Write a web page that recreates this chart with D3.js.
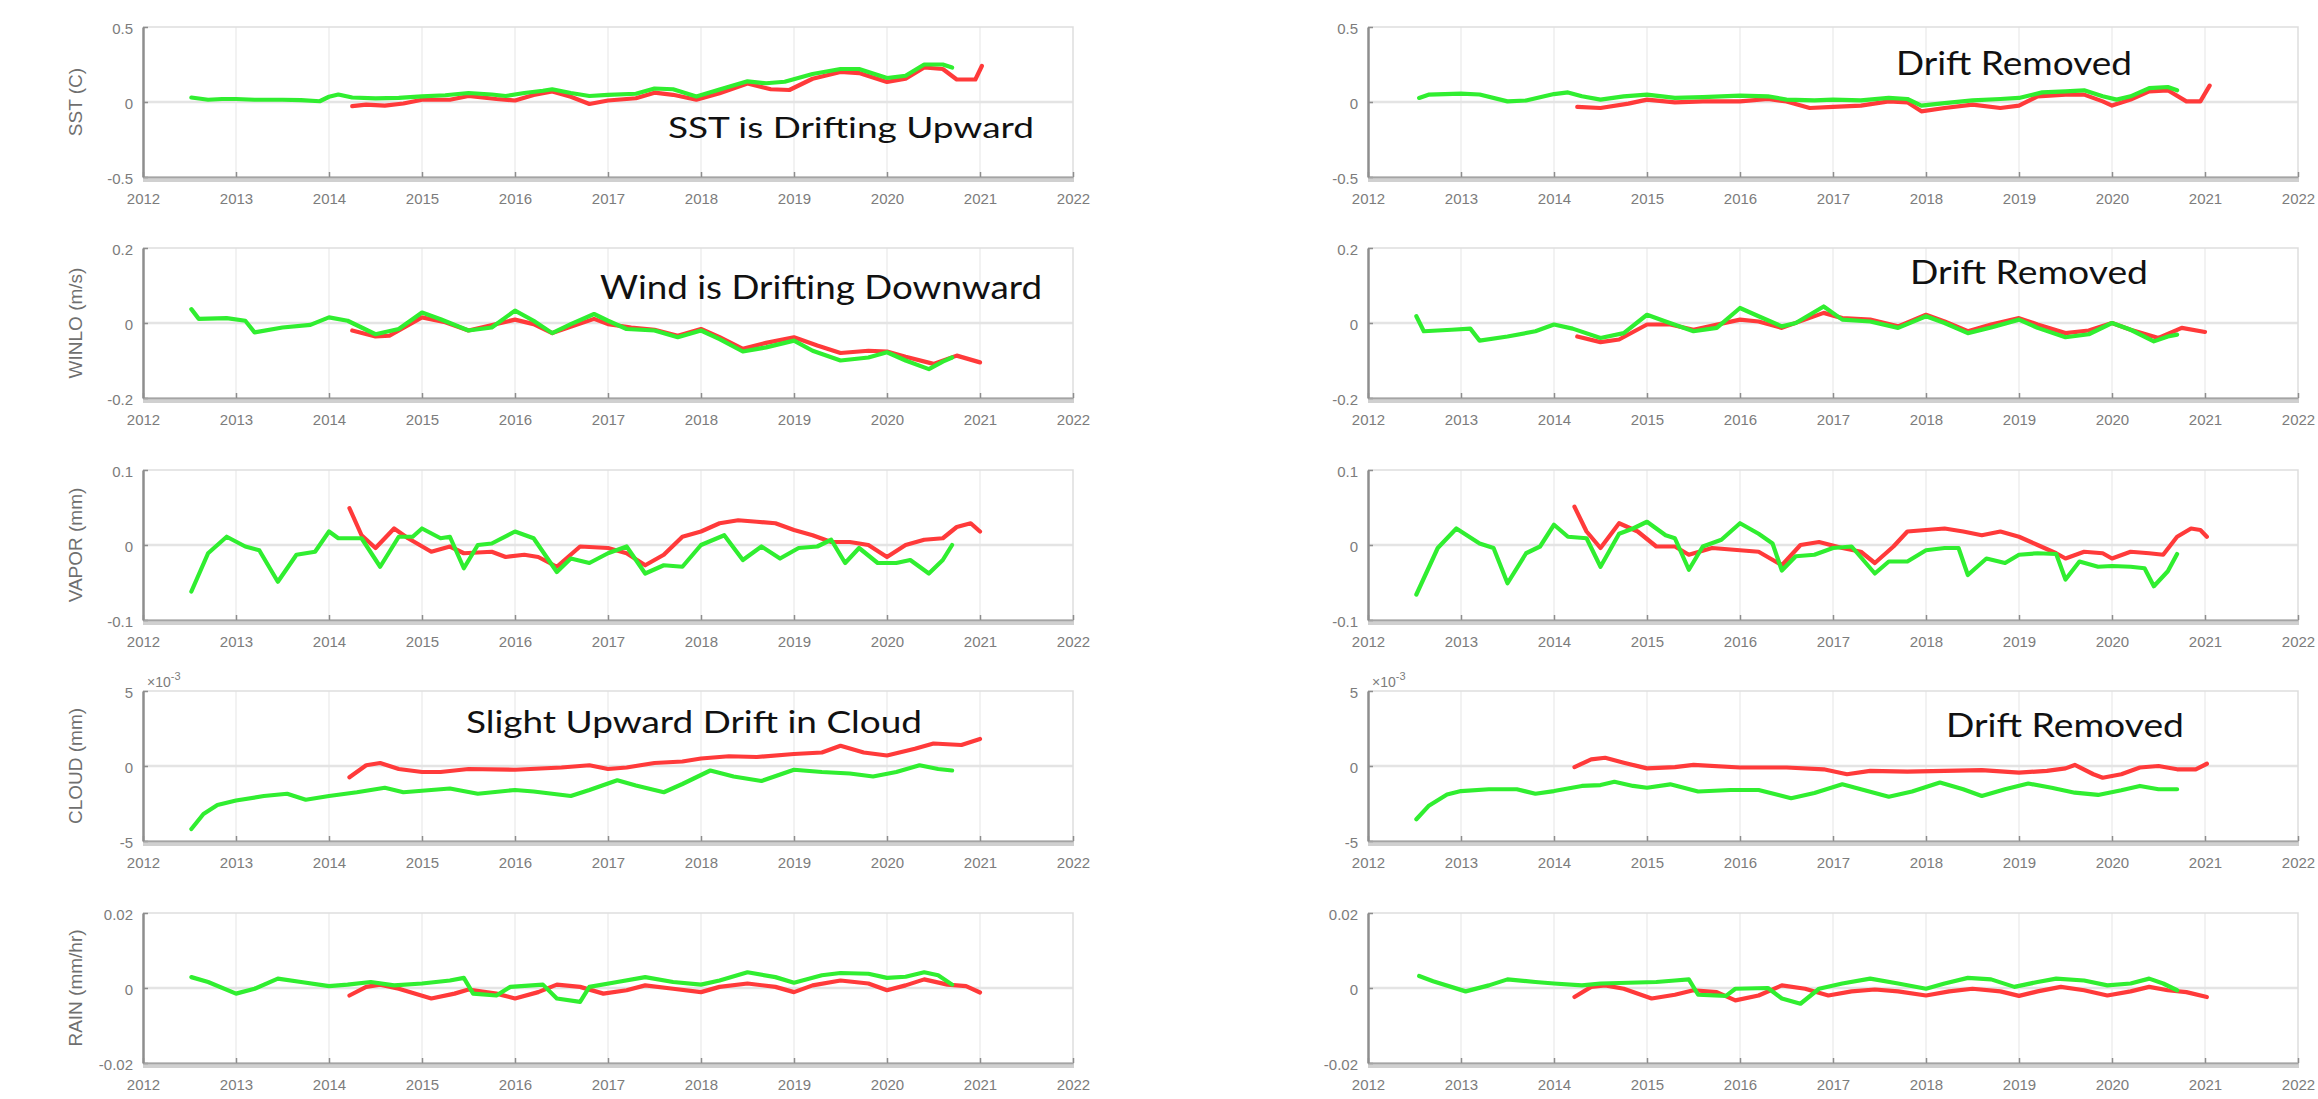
<!DOCTYPE html>
<html>
<head>
<meta charset="utf-8">
<script src="https://cdn.jsdelivr.net/npm/d3@7"></script>
<style>
  body { margin: 0; background: #ffffff; }
  svg { display: block; }
</style>
</head>
<body>
<svg id="fig" width="2318" height="1099"></svg>
<script>
// ---------------------------------------------------------------------------
// Axis definitions
// ---------------------------------------------------------------------------
const yearTicks = [2012, 2013, 2014, 2015, 2016, 2017, 2018, 2019, 2020, 2021, 2022];
const variableLabels = ["SST (C)", "WINLO (m/s)", "VAPOR (mm)", "CLOUD (mm)", "RAIN (mm/hr)"];
const yLimits = [0.5, 0.2, 0.1, 5, 0.02];           // symmetric limits (CLOUD in units of 1e-3 mm)
const yTickLabels = [
  ["0.5", "0", "-0.5"],
  ["0.2", "0", "-0.2"],
  ["0.1", "0", "-0.1"],
  ["5", "0", "-5"],
  ["0.02", "0", "-0.02"]
];

// ---------------------------------------------------------------------------
// Raw differences (left column): [decimal year, value]
// ---------------------------------------------------------------------------
const sstRawGreen = [[2012.52,0.03],[2012.7,0.015],[2012.85,0.02],[2013.0,0.02],[2013.2,0.015],[2013.5,0.015],[2013.7,0.012],[2013.9,0.005],[2014.0,0.035],[2014.1,0.05],[2014.25,0.03],[2014.5,0.024],[2014.75,0.028],[2015.0,0.037],[2015.25,0.045],[2015.5,0.06],[2015.75,0.05],[2015.9,0.04],[2016.1,0.06],[2016.3,0.075],[2016.4,0.085],[2016.6,0.06],[2016.8,0.04],[2017.0,0.047],[2017.3,0.055],[2017.5,0.09],[2017.7,0.085],[2017.95,0.037],[2018.2,0.084],[2018.5,0.138],[2018.7,0.125],[2018.9,0.135],[2019.2,0.187],[2019.5,0.22],[2019.7,0.22],[2019.9,0.18],[2020.0,0.16],[2020.2,0.175],[2020.4,0.25],[2020.6,0.25],[2020.7,0.23]];
const sstRawRed = [[2014.25,-0.028],[2014.4,-0.018],[2014.6,-0.024],[2014.8,-0.01],[2015.0,0.015],[2015.3,0.015],[2015.5,0.04],[2015.8,0.02],[2016.0,0.01],[2016.2,0.047],[2016.4,0.07],[2016.6,0.035],[2016.8,-0.013],[2017.0,0.01],[2017.3,0.025],[2017.5,0.062],[2017.7,0.048],[2017.95,0.015],[2018.2,0.058],[2018.5,0.123],[2018.75,0.085],[2018.95,0.08],[2019.2,0.155],[2019.5,0.2],[2019.7,0.193],[2020.0,0.134],[2020.2,0.155],[2020.4,0.23],[2020.6,0.22],[2020.75,0.15],[2020.95,0.15],[2021.02,0.24]];

const windRawGreen = [[2012.52,0.037],[2012.6,0.011],[2012.9,0.013],[2013.1,0.006],[2013.2,-0.025],[2013.5,-0.012],[2013.8,-0.005],[2014.0,0.015],[2014.2,0.006],[2014.5,-0.03],[2014.75,-0.016],[2015.0,0.028],[2015.2,0.01],[2015.5,-0.02],[2015.75,-0.012],[2016.0,0.033],[2016.2,0.006],[2016.4,-0.027],[2016.6,-0.003],[2016.85,0.024],[2017.0,0.006],[2017.2,-0.016],[2017.5,-0.02],[2017.75,-0.038],[2018.0,-0.02],[2018.2,-0.043],[2018.45,-0.076],[2018.7,-0.065],[2019.0,-0.047],[2019.2,-0.074],[2019.5,-0.1],[2019.8,-0.092],[2020.0,-0.078],[2020.2,-0.1],[2020.45,-0.123],[2020.6,-0.103],[2020.7,-0.092]];
const windRawRed = [[2014.25,-0.02],[2014.5,-0.036],[2014.65,-0.034],[2015.0,0.015],[2015.25,0.002],[2015.5,-0.02],[2016.0,0.009],[2016.2,-0.003],[2016.4,-0.027],[2016.85,0.011],[2017.0,-0.003],[2017.25,-0.012],[2017.5,-0.018],[2017.75,-0.034],[2018.0,-0.016],[2018.2,-0.038],[2018.45,-0.069],[2018.7,-0.053],[2019.0,-0.038],[2019.25,-0.06],[2019.5,-0.08],[2019.8,-0.074],[2020.0,-0.076],[2020.2,-0.09],[2020.5,-0.109],[2020.75,-0.087],[2021.0,-0.105]];

const vaporRawGreen = [[2012.52,-0.062],[2012.7,-0.011],[2012.9,0.011],[2013.1,-0.002],[2013.25,-0.007],[2013.45,-0.049],[2013.65,-0.013],[2013.85,-0.009],[2014.0,0.018],[2014.1,0.009],[2014.35,0.009],[2014.55,-0.029],[2014.75,0.011],[2014.9,0.011],[2015.0,0.022],[2015.2,0.009],[2015.3,0.011],[2015.45,-0.031],[2015.6,0],[2015.75,0.002],[2016.0,0.018],[2016.2,0.009],[2016.45,-0.036],[2016.6,-0.018],[2016.8,-0.024],[2017.0,-0.011],[2017.2,-0.002],[2017.4,-0.038],[2017.6,-0.027],[2017.8,-0.029],[2018.0,0],[2018.25,0.013],[2018.45,-0.02],[2018.65,-0.002],[2018.85,-0.018],[2019.05,-0.004],[2019.25,-0.002],[2019.4,0.007],[2019.55,-0.024],[2019.7,-0.004],[2019.9,-0.024],[2020.1,-0.024],[2020.25,-0.02],[2020.45,-0.038],[2020.6,-0.02],[2020.7,0]];
const vaporRawRed = [[2014.22,0.049],[2014.35,0.013],[2014.5,-0.004],[2014.7,0.022],[2014.85,0.009],[2015.1,-0.009],[2015.3,-0.002],[2015.45,-0.011],[2015.75,-0.009],[2015.9,-0.016],[2016.1,-0.013],[2016.25,-0.016],[2016.45,-0.029],[2016.7,-0.002],[2017.0,-0.004],[2017.2,-0.011],[2017.4,-0.027],[2017.6,-0.013],[2017.8,0.011],[2018.0,0.018],[2018.2,0.029],[2018.4,0.033],[2018.6,0.031],[2018.8,0.029],[2019.0,0.02],[2019.2,0.013],[2019.4,0.004],[2019.6,0.004],[2019.8,0],[2020.0,-0.016],[2020.2,0],[2020.4,0.007],[2020.6,0.009],[2020.75,0.024],[2020.9,0.029],[2021.0,0.018]];

// CLOUD values are in units of 1e-3 mm
const cloudRawGreen = [[2012.52,-4.2],[2012.65,-3.2],[2012.8,-2.6],[2013.0,-2.3],[2013.3,-2.0],[2013.55,-1.85],[2013.75,-2.25],[2014.0,-2.0],[2014.3,-1.75],[2014.6,-1.45],[2014.8,-1.75],[2015.0,-1.65],[2015.3,-1.5],[2015.6,-1.85],[2016.0,-1.6],[2016.2,-1.7],[2016.6,-2.0],[2016.8,-1.6],[2017.1,-0.95],[2017.3,-1.3],[2017.6,-1.75],[2017.8,-1.2],[2018.1,-0.3],[2018.35,-0.7],[2018.65,-1.0],[2019.0,-0.25],[2019.3,-0.4],[2019.6,-0.5],[2019.85,-0.7],[2020.1,-0.4],[2020.35,0.05],[2020.55,-0.2],[2020.7,-0.3]];
const cloudRawRed = [[2014.22,-0.75],[2014.4,0.05],[2014.55,0.2],[2014.75,-0.2],[2015.0,-0.4],[2015.2,-0.4],[2015.5,-0.2],[2016.0,-0.25],[2016.5,-0.1],[2016.8,0.05],[2017.0,-0.2],[2017.2,-0.1],[2017.5,0.2],[2017.8,0.3],[2018.0,0.5],[2018.3,0.65],[2018.6,0.6],[2019.0,0.8],[2019.3,0.9],[2019.5,1.35],[2019.75,0.9],[2020.0,0.7],[2020.3,1.15],[2020.5,1.5],[2020.8,1.4],[2021.0,1.8]];

const rainRawGreen = [[2012.52,0.0029],[2012.7,0.0016],[2013.0,-0.0015],[2013.2,-0.0002],[2013.45,0.0025],[2013.7,0.0016],[2014.0,0.0005],[2014.2,0.0009],[2014.45,0.0016],[2014.7,0.0007],[2015.0,0.0012],[2015.3,0.002],[2015.45,0.0027],[2015.55,-0.0015],[2015.8,-0.002],[2015.95,0.0003],[2016.3,0.0009],[2016.45,-0.0028],[2016.7,-0.0037],[2016.8,0.0003],[2017.1,0.0016],[2017.4,0.0029],[2017.7,0.0016],[2018.0,0.0009],[2018.2,0.002],[2018.5,0.0042],[2018.8,0.0029],[2019.0,0.0014],[2019.3,0.0034],[2019.5,0.004],[2019.8,0.0038],[2020.0,0.0027],[2020.2,0.003],[2020.4,0.0042],[2020.55,0.0034],[2020.7,0.0009]];
const rainRawRed = [[2014.22,-0.002],[2014.4,0.0003],[2014.55,0.0009],[2014.75,-0.0002],[2015.1,-0.0028],[2015.35,-0.0015],[2015.5,-0.0004],[2015.8,-0.0015],[2016.0,-0.0028],[2016.25,-0.0011],[2016.45,0.0009],[2016.7,0.0003],[2016.95,-0.0015],[2017.2,-0.0006],[2017.4,0.0007],[2017.7,-0.0002],[2018.0,-0.0011],[2018.2,0.0003],[2018.5,0.0012],[2018.8,0.0003],[2019.0,-0.0011],[2019.2,0.0007],[2019.5,0.002],[2019.8,0.0012],[2020.0,-0.0006],[2020.2,0.0007],[2020.4,0.0023],[2020.65,0.0009],[2020.85,0.0005],[2021.0,-0.0012]];

// ---------------------------------------------------------------------------
// Drift-removed differences (right column)
// ---------------------------------------------------------------------------
const sstFixGreen = [[2012.55,0.027],[2012.65,0.049],[2013.0,0.056],[2013.2,0.05],[2013.5,0.004],[2013.7,0.01],[2014.0,0.053],[2014.15,0.064],[2014.3,0.038],[2014.5,0.016],[2014.75,0.038],[2015.0,0.049],[2015.3,0.027],[2015.6,0.033],[2016.0,0.042],[2016.3,0.038],[2016.5,0.016],[2016.8,0.011],[2017.0,0.016],[2017.3,0.011],[2017.6,0.027],[2017.8,0.02],[2017.95,-0.024],[2018.2,-0.007],[2018.5,0.011],[2018.8,0.02],[2019.0,0.027],[2019.25,0.064],[2019.5,0.071],[2019.7,0.078],[2019.9,0.038],[2020.05,0.016],[2020.2,0.038],[2020.4,0.093],[2020.6,0.1],[2020.7,0.078]];
const sstFixRed = [[2014.25,-0.033],[2014.5,-0.04],[2014.8,-0.011],[2015.0,0.016],[2015.3,-0.002],[2015.6,0.004],[2016.0,0.004],[2016.3,0.02],[2016.5,0.004],[2016.75,-0.04],[2017.0,-0.033],[2017.3,-0.024],[2017.6,0.004],[2017.8,-0.002],[2017.95,-0.062],[2018.2,-0.04],[2018.5,-0.018],[2018.8,-0.04],[2019.0,-0.024],[2019.2,0.038],[2019.5,0.049],[2019.7,0.049],[2019.9,0.004],[2020.0,-0.024],[2020.2,0.016],[2020.4,0.071],[2020.6,0.078],[2020.8,0.004],[2020.95,0.004],[2021.05,0.109]];

const windFixGreen = [[2012.52,0.018],[2012.6,-0.022],[2012.9,-0.018],[2013.1,-0.015],[2013.2,-0.047],[2013.5,-0.036],[2013.8,-0.022],[2014.0,-0.004],[2014.2,-0.015],[2014.5,-0.04],[2014.75,-0.027],[2015.0,0.022],[2015.2,0.004],[2015.5,-0.022],[2015.75,-0.013],[2016.0,0.04],[2016.2,0.018],[2016.45,-0.009],[2016.6,0],[2016.9,0.044],[2017.1,0.009],[2017.4,0.004],[2017.7,-0.013],[2018.0,0.018],[2018.2,0],[2018.45,-0.027],[2018.7,-0.012],[2019.0,0.009],[2019.2,-0.013],[2019.5,-0.038],[2019.75,-0.03],[2020.0,0],[2020.2,-0.018],[2020.45,-0.049],[2020.6,-0.036],[2020.7,-0.031]];
const windFixRed = [[2014.25,-0.036],[2014.5,-0.051],[2014.7,-0.044],[2015.0,-0.004],[2015.25,-0.004],[2015.5,-0.018],[2016.0,0.009],[2016.2,0.004],[2016.45,-0.013],[2016.9,0.027],[2017.1,0.013],[2017.4,0.009],[2017.7,-0.009],[2018.0,0.022],[2018.2,0.004],[2018.45,-0.022],[2018.7,-0.004],[2019.0,0.013],[2019.2,-0.004],[2019.5,-0.027],[2019.75,-0.02],[2020.0,0],[2020.2,-0.018],[2020.5,-0.04],[2020.75,-0.013],[2021.0,-0.024]];

const vaporFixGreen = [[2012.52,-0.066],[2012.75,-0.004],[2012.95,0.022],[2013.2,0.002],[2013.35,-0.004],[2013.5,-0.051],[2013.7,-0.011],[2013.85,-0.002],[2014.0,0.027],[2014.15,0.011],[2014.35,0.009],[2014.5,-0.029],[2014.7,0.015],[2014.85,0.022],[2015.0,0.031],[2015.2,0.013],[2015.3,0.009],[2015.45,-0.033],[2015.6,-0.002],[2015.8,0.007],[2016.0,0.029],[2016.2,0.015],[2016.35,0.002],[2016.45,-0.034],[2016.6,-0.015],[2016.8,-0.013],[2017.0,-0.004],[2017.2,-0.002],[2017.45,-0.038],[2017.6,-0.022],[2017.8,-0.022],[2018.0,-0.007],[2018.2,-0.004],[2018.35,-0.004],[2018.45,-0.04],[2018.65,-0.018],[2018.85,-0.024],[2019.0,-0.013],[2019.2,-0.011],[2019.4,-0.012],[2019.5,-0.046],[2019.65,-0.022],[2019.85,-0.029],[2020.0,-0.028],[2020.2,-0.029],[2020.35,-0.031],[2020.45,-0.055],[2020.6,-0.035],[2020.7,-0.012]];
const vaporFixRed = [[2014.22,0.051],[2014.35,0.018],[2014.5,-0.004],[2014.7,0.029],[2014.9,0.018],[2015.1,-0.002],[2015.3,-0.002],[2015.45,-0.013],[2015.7,-0.004],[2016.0,-0.007],[2016.2,-0.009],[2016.45,-0.027],[2016.65,0],[2016.85,0.004],[2017.1,-0.004],[2017.3,-0.009],[2017.45,-0.024],[2017.65,-0.002],[2017.8,0.018],[2018.0,0.02],[2018.2,0.022],[2018.4,0.018],[2018.6,0.013],[2018.8,0.018],[2019.0,0.011],[2019.2,0],[2019.4,-0.011],[2019.5,-0.018],[2019.7,-0.009],[2019.9,-0.011],[2020.0,-0.018],[2020.2,-0.009],[2020.4,-0.011],[2020.55,-0.013],[2020.7,0.011],[2020.85,0.022],[2020.95,0.02],[2021.02,0.011]];

const cloudFixGreen = [[2012.52,-3.55],[2012.65,-2.67],[2012.85,-1.9],[2013.0,-1.67],[2013.3,-1.55],[2013.6,-1.55],[2013.8,-1.85],[2014.0,-1.67],[2014.3,-1.33],[2014.5,-1.27],[2014.65,-1.05],[2014.85,-1.33],[2015.0,-1.45],[2015.25,-1.22],[2015.55,-1.7],[2015.9,-1.6],[2016.2,-1.6],[2016.55,-2.15],[2016.8,-1.8],[2017.1,-1.22],[2017.3,-1.55],[2017.6,-2.05],[2017.85,-1.7],[2018.15,-1.1],[2018.4,-1.55],[2018.6,-2.0],[2018.85,-1.55],[2019.1,-1.17],[2019.35,-1.45],[2019.6,-1.78],[2019.85,-1.93],[2020.1,-1.62],[2020.3,-1.33],[2020.5,-1.55],[2020.7,-1.55]];
const cloudFixRed = [[2014.22,-0.07],[2014.4,0.44],[2014.55,0.55],[2014.75,0.22],[2015.0,-0.16],[2015.3,-0.07],[2015.5,0.07],[2016.0,-0.1],[2016.5,-0.1],[2016.9,-0.22],[2017.15,-0.55],[2017.4,-0.33],[2017.8,-0.38],[2018.2,-0.33],[2018.6,-0.28],[2019.0,-0.44],[2019.3,-0.33],[2019.5,-0.16],[2019.6,0.07],[2019.8,-0.55],[2019.9,-0.78],[2020.1,-0.55],[2020.3,-0.1],[2020.5,0],[2020.7,-0.22],[2020.9,-0.22],[2021.02,0.15]];

const rainFixGreen = [[2012.55,0.0032],[2012.7,0.0018],[2013.05,-0.0009],[2013.3,0.0007],[2013.5,0.0023],[2013.8,0.0016],[2014.0,0.0012],[2014.3,0.0007],[2014.5,0.0012],[2014.8,0.0014],[2015.1,0.0016],[2015.3,0.002],[2015.45,0.0023],[2015.55,-0.0018],[2015.85,-0.0021],[2015.95,-0.0002],[2016.3,0],[2016.45,-0.0028],[2016.65,-0.0042],[2016.85,-0.0002],[2017.1,0.0012],[2017.4,0.0025],[2017.7,0.0012],[2018.0,-0.0002],[2018.2,0.0012],[2018.45,0.0027],[2018.7,0.0023],[2018.95,0.0003],[2019.2,0.0016],[2019.4,0.0025],[2019.7,0.002],[2019.95,0.0007],[2020.2,0.0012],[2020.4,0.0025],[2020.55,0.0012],[2020.7,-0.0006]];
const rainFixRed = [[2014.22,-0.0024],[2014.4,0.0003],[2014.55,0.0007],[2014.75,-0.0002],[2015.05,-0.0028],[2015.3,-0.0018],[2015.5,-0.0006],[2015.75,-0.0011],[2015.95,-0.0033],[2016.2,-0.002],[2016.45,0.0007],[2016.7,-0.0002],[2016.95,-0.002],[2017.2,-0.0009],[2017.45,-0.0004],[2017.7,-0.0009],[2018.0,-0.002],[2018.25,-0.0009],[2018.5,-0.0002],[2018.8,-0.0009],[2019.0,-0.0021],[2019.2,-0.0009],[2019.45,0.0003],[2019.7,-0.0006],[2019.95,-0.002],[2020.2,-0.0009],[2020.4,0.0003],[2020.6,-0.0006],[2020.8,-0.0011],[2021.02,-0.0024]];

// Panel annotations: [column, row, text, x, baseline, width, size]
const notes = [
  [0, 0, "SST is Drifting Upward", 668, 138, 366, 29],
  [0, 1, "Wind is Drifting Downward", 600, 299, 442, 32],
  [0, 3, "Slight Upward Drift in Cloud", 466, 733, 456, 31],
  [1, 0, "Drift Removed", 1896, 75, 236, 32],
  [1, 1, "Drift Removed", 1910, 284, 238, 32],
  [1, 3, "Drift Removed", 1946, 737, 238, 32]
];

// ---------------------------------------------------------------------------
// Layout
// ---------------------------------------------------------------------------
const columnLeft = [143, 1368];
const plotWidth = 930;
const panelTops = [27, 248, 470, 691, 913];
const panelHeight = 150;

const RED = "#ff3a3a";
const GREEN = "#30ee30";
const AXIS_TEXT = "#7c7c7c";
const GRID = "#e9e9e9";

const columns = [
  { red: [sstRawRed, windRawRed, vaporRawRed, cloudRawRed, rainRawRed],
    green: [sstRawGreen, windRawGreen, vaporRawGreen, cloudRawGreen, rainRawGreen],
    ylabels: true },
  { red: [sstFixRed, windFixRed, vaporFixRed, cloudFixRed, rainFixRed],
    green: [sstFixGreen, windFixGreen, vaporFixGreen, cloudFixGreen, rainFixGreen],
    ylabels: false }
];

const svg = d3.select("#fig");
const defs = svg.append("defs");

columns.forEach((col, c) => {
  const left = columnLeft[c];
  variableLabels.forEach((label, r) => {
    const top = panelTops[r];
    const bottom = top + panelHeight;
    const lim = yLimits[r];
    const x = d3.scaleLinear().domain([yearTicks[0], yearTicks[yearTicks.length - 1]]).range([left, left + plotWidth]);
    const y = d3.scaleLinear().domain([-lim, lim]).range([bottom, top]);
    const g = svg.append("g").attr("class", `panel c${c} r${r}`);

    // grid
    g.append("g").selectAll("line").data(yearTicks.slice(1, -1)).join("line")
      .attr("x1", d => x(d)).attr("x2", d => x(d))
      .attr("y1", top).attr("y2", bottom)
      .attr("stroke", GRID).attr("stroke-width", 1.2);
    g.append("line")
      .attr("x1", left).attr("x2", left + plotWidth)
      .attr("y1", y(0)).attr("y2", y(0))
      .attr("stroke", "#e4e4e4").attr("stroke-width", 2.5);

    // box (top and right edges)
    g.append("path")
      .attr("d", `M${left},${top}H${left + plotWidth}V${bottom}`)
      .attr("fill", "none").attr("stroke", "#dedede").attr("stroke-width", 1.5);

    // series
    const clipId = `clip-${c}-${r}`;
    defs.append("clipPath").attr("id", clipId)
      .append("rect").attr("x", left).attr("y", top).attr("width", plotWidth).attr("height", panelHeight);
    const line = d3.line().x(d => x(d[0])).y(d => y(d[1]));
    const lines = g.append("g").attr("clip-path", `url(#${clipId})`);
    lines.append("path").datum(col.red[r]).attr("d", line)
      .attr("fill", "none").attr("stroke", RED).attr("stroke-width", 4.2)
      .attr("stroke-linejoin", "round").attr("stroke-linecap", "round");
    lines.append("path").datum(col.green[r]).attr("d", line)
      .attr("fill", "none").attr("stroke", GREEN).attr("stroke-width", 4.2)
      .attr("stroke-linejoin", "round").attr("stroke-linecap", "round");

    // bottom axis band
    g.append("rect")
      .attr("x", left).attr("y", bottom - 1)
      .attr("width", plotWidth + 1).attr("height", 6)
      .attr("fill", "#d0d0d0");

    const yAxis = d3.axisLeft(y)
      .tickValues([lim, 0, -lim])
      .tickFormat((d, i) => yTickLabels[r][i])
      .tickSizeInner(-5).tickSizeOuter(0).tickPadding(10);
    const ya = g.append("g").attr("transform", `translate(${left},0)`).call(yAxis);
    ya.select(".domain").attr("stroke", "#8e8e8e").attr("stroke-width", 2.5);
    ya.selectAll(".tick line").attr("stroke", "#8e8e8e").attr("stroke-width", 1.5);
    ya.selectAll(".tick text")
      .attr("fill", AXIS_TEXT).attr("font-size", 15)
      .attr("font-family", "Liberation Sans, Arial, sans-serif")
      .attr("dy", "0.45em");

    const xAxis = d3.axisBottom(x)
      .tickValues(yearTicks)
      .tickFormat(d3.format("d"))
      .tickSizeInner(-5).tickSizeOuter(0).tickPadding(16);
    const xa = g.append("g").attr("transform", `translate(0,${bottom})`).call(xAxis);
    xa.select(".domain").attr("stroke", "#a4a4a4").attr("stroke-width", 1.5);
    xa.selectAll(".tick line").attr("stroke", "#8e8e8e").attr("stroke-width", 1.5);
    xa.selectAll(".tick text")
      .attr("fill", AXIS_TEXT).attr("font-size", 15)
      .attr("font-family", "Liberation Sans, Arial, sans-serif");

    // exponent marker on the CLOUD axes
    if (r === 3) {
      const ex = g.append("text")
        .attr("x", left + 4).attr("y", top - 4)
        .attr("fill", AXIS_TEXT).attr("font-size", 14)
        .attr("font-family", "Liberation Sans, Arial, sans-serif");
      ex.append("tspan").text("\u00d710");
      ex.append("tspan").attr("dy", -7).attr("font-size", 11).text("-3");
    }

    // y label
    if (col.ylabels) {
      g.append("text")
        .attr("transform", `translate(${left - 61},${(top + bottom) / 2}) rotate(-90)`)
        .attr("text-anchor", "middle")
        .attr("fill", "#6f6f6f").attr("font-size", 19)
        .attr("font-family", "Liberation Sans, Arial, sans-serif")
        .text(label);
    }
  });
});

// annotations
svg.append("g").selectAll("text").data(notes).join("text")
  .attr("x", d => d[3]).attr("y", d => d[4])
  .attr("textLength", d => d[5]).attr("lengthAdjust", "spacingAndGlyphs")
  .attr("font-size", d => d[6])
  .attr("font-family", "Lato, 'Open Sans', sans-serif")
  .attr("fill", "#111111")
  .text(d => d[2]);
</script>
</body>
</html>
